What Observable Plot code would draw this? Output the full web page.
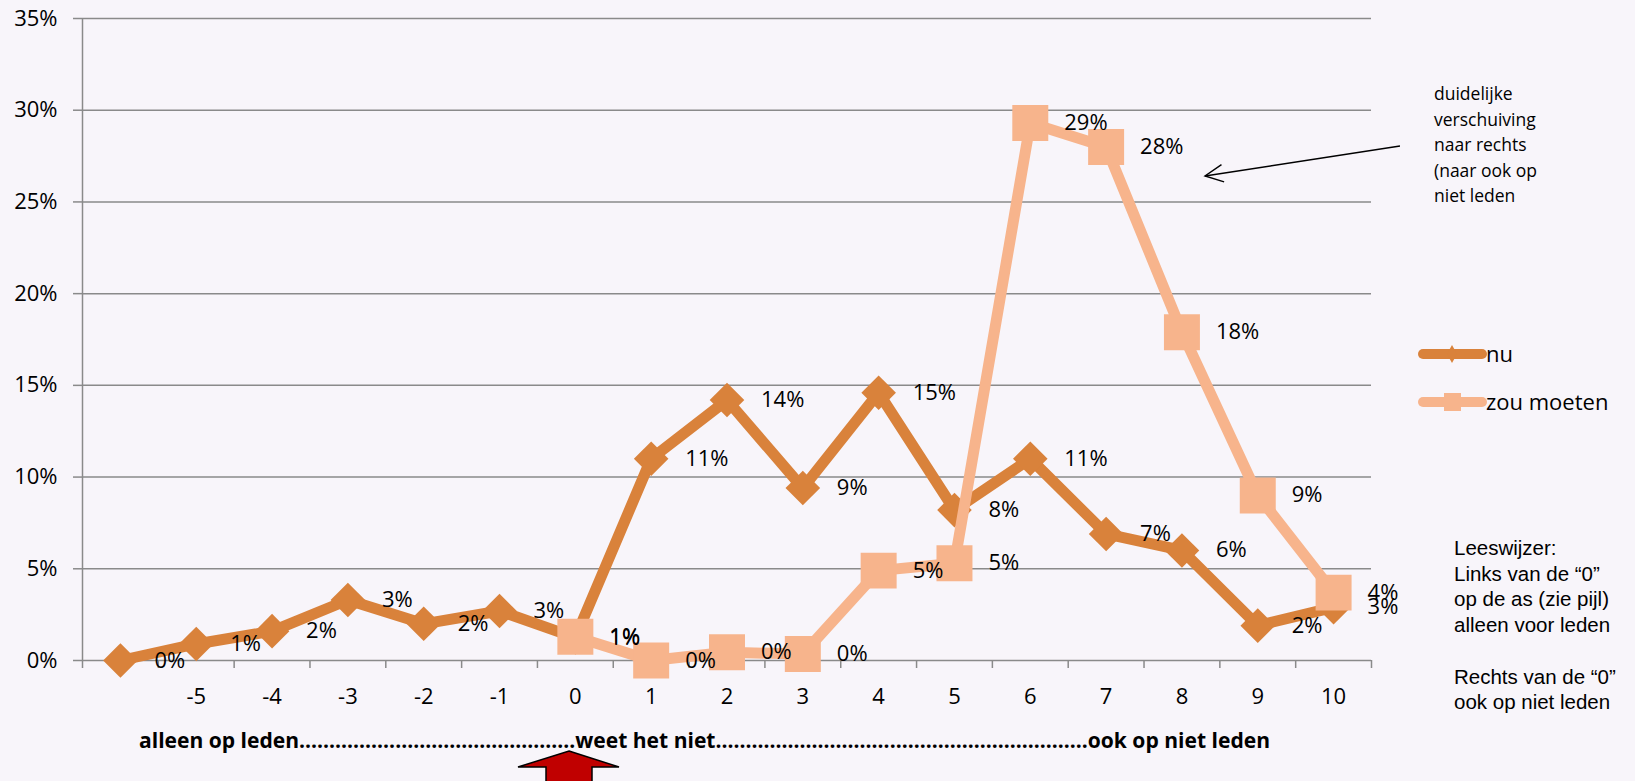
<!DOCTYPE html>
<html><head><meta charset="utf-8">
<script src="https://cdn.jsdelivr.net/npm/d3@7"></script>
<script src="https://cdn.jsdelivr.net/npm/@observablehq/plot@0.6"></script>
<style>
html,body{margin:0;padding:0;background:#f8f5fa;}
#wrap{position:relative;width:1635px;height:781px;overflow:hidden;background:#f8f5fa;}
#wrap svg{position:absolute;left:0;top:0;}
</style></head><body><div id="wrap"></div>
<script>
const categories = ["", "-5", "-4", "-3", "-2", "-1", "0", "1", "2", "3", "4", "5", "6", "7", "8", "9", "10"];
const nuValues  = [0.0, 0.9, 1.6, 3.3, 2.0, 2.7, 1.25, 11.0, 14.2, 9.4, 14.6, 8.2, 11.0, 6.9, 6.0, 1.9, 2.9];
const zouValues = [null, null, null, null, null, null, 1.3, 0.0, 0.45, 0.35, 4.9, 5.3, 29.3, 28.0, 17.9, 9.0, 3.7];
const seriesNames = ["nu", "zou moeten"];
const seriesColors = ["#d9823b", "#f7b48c"];
const yTicks = [0, 5, 10, 15, 20, 25, 30, 35];
const axisTitle = "alleen op leden" + ".".repeat(46) + "weet het niet" + ".".repeat(62) + "ook op niet leden";
const noteLines = ["duidelijke", "verschuiving", "naar rechts", "(naar ook op", "niet leden"];
const guideLines = ["Leeswijzer:", "Links van de \u201C0\u201D", "op de as (zie pijl)", "alleen voor leden", "", "Rechts van de \u201C0\u201D", "ook op niet leden"];

const nuRows = categories.map((c, i) => ({i, series: seriesNames[0], v: nuValues[i]})).filter(d => d.v != null);
const zouRows = categories.map((c, i) => ({i, series: seriesNames[1], v: zouValues[i]})).filter(d => d.v != null);
const grid = "#8a8a8a";

const chart = Plot.plot({
  width: 1635, height: 781,
  marginLeft: 82, marginRight: 264, marginTop: 18, marginBottom: 121,
  style: {background: "transparent", fontFamily: "'Open Sans', sans-serif", fontSize: "22px", color: "#000", overflow: "visible"},
  x: {type: "linear", domain: [-0.5, categories.length - 0.5]},
  y: {type: "linear", domain: [0, 35]},
  color: {domain: seriesNames, range: seriesColors},
  marks: [
    Plot.ruleY(yTicks, {stroke: grid, strokeWidth: 1.5}),
    Plot.ruleX([-0.5], {stroke: grid, strokeWidth: 1.5}),
    Plot.axisY(yTicks, {tickSize: 9, tickPadding: 16, tickFormat: d => d + "%", stroke: grid, strokeWidth: 1.5, fill: "#000", fontSize: 22, label: null}),
    Plot.axisX(d3.range(categories.length + 1).map(k => k - 0.5), {tickSize: 8, tickFormat: () => "", stroke: grid, strokeWidth: 1.5, label: null}),
    Plot.axisX(d3.range(categories.length), {tickSize: 0, tickPadding: 28, tickFormat: i => categories[i], fill: "#000", fontSize: 22, label: null}),
    Plot.line(nuRows, {x: "i", y: "v", stroke: "series", strokeWidth: 11}),
    Plot.dot(nuRows, {x: "i", y: "v", symbol: "square", r: 13.8, rotate: 45, fill: "series", stroke: null}),
    Plot.line(zouRows, {x: "i", y: "v", stroke: "series", strokeWidth: 11}),
    Plot.dot(zouRows, {x: "i", y: "v", symbol: "square", r: 20.3, fill: "series", stroke: null}),
    Plot.text([...nuRows, ...zouRows], {x: "i", y: "v", text: d => Math.round(d.v) + "%", textAnchor: "start", dx: 34, fill: "#000", fontSize: 22})
  ]
});
const wrap = document.getElementById("wrap");
wrap.appendChild(chart);

// overlay: legend, notes, axis title, arrows
const ov = d3.select(wrap).append("svg").attr("width", 1635).attr("height", 781);

// legend
const legY = [354, 402];
seriesNames.forEach((name, k) => {
  const y = legY[k];
  ov.append("line").attr("x1", 1423).attr("x2", 1482).attr("y1", y).attr("y2", y)
    .attr("stroke", seriesColors[k]).attr("stroke-width", 10).attr("stroke-linecap", "round");
  if (k === 0) {
    ov.append("path").attr("d", `M1452,${y-9}L1457,${y}L1452,${y+9}L1447,${y}Z`).attr("fill", seriesColors[k]);
  } else {
    ov.append("rect").attr("x", 1444).attr("y", y - 9).attr("width", 17).attr("height", 18).attr("fill", seriesColors[k]);
  }
  ov.append("text").attr("x", 1486).attr("y", y + 8).attr("font-family", "'Open Sans', sans-serif")
    .attr("font-size", 22).attr("fill", "#000").text(name);
});

// note text (top right)
noteLines.forEach((t, k) => {
  ov.append("text").attr("x", 1434).attr("y", 100 + k * 25.6).attr("font-family", "'Open Sans', sans-serif")
    .attr("font-size", 17.5).attr("fill", "#000").text(t);
});
// note arrow
{
  const x0 = 1400, y0 = 146, x1 = 1205, y1 = 176;
  ov.append("line").attr("x1", x0).attr("y1", y0).attr("x2", x1).attr("y2", y1).attr("stroke", "#000").attr("stroke-width", 1.4);
  const ang = Math.atan2(y0 - y1, x0 - x1), L = 20, a = 0.45;
  const p1 = [x1 + L * Math.cos(ang + a), y1 + L * Math.sin(ang + a)];
  const p2 = [x1 + L * Math.cos(ang - a), y1 + L * Math.sin(ang - a)];
  ov.append("path").attr("d", `M${p1}L${x1},${y1}L${p2}`).attr("fill", "none").attr("stroke", "#000").attr("stroke-width", 1.4);
}

// guide text (bottom right)
guideLines.forEach((t, k) => {
  ov.append("text").attr("x", 1454).attr("y", 555 + k * 25.7).attr("font-family", "'Liberation Sans', Arial, sans-serif")
    .attr("font-size", 20.5).attr("fill", "#000").text(t);
});

// axis title
ov.append("text").attr("x", 139).attr("y", 748).attr("font-family", "'Open Sans', sans-serif")
  .attr("font-weight", "bold").attr("font-size", 21).attr("fill", "#000")
  .attr("textLength", 1131).attr("lengthAdjust", "spacingAndGlyphs").text(axisTitle);

// red arrow
ov.append("path").attr("d", "M569,751L619,767L592,767L592,786L546,786L546,767L518,767Z")
  .attr("fill", "#c00000").attr("stroke", "#000").attr("stroke-width", 1.5).attr("stroke-linejoin", "miter");
</script>
</body></html>
